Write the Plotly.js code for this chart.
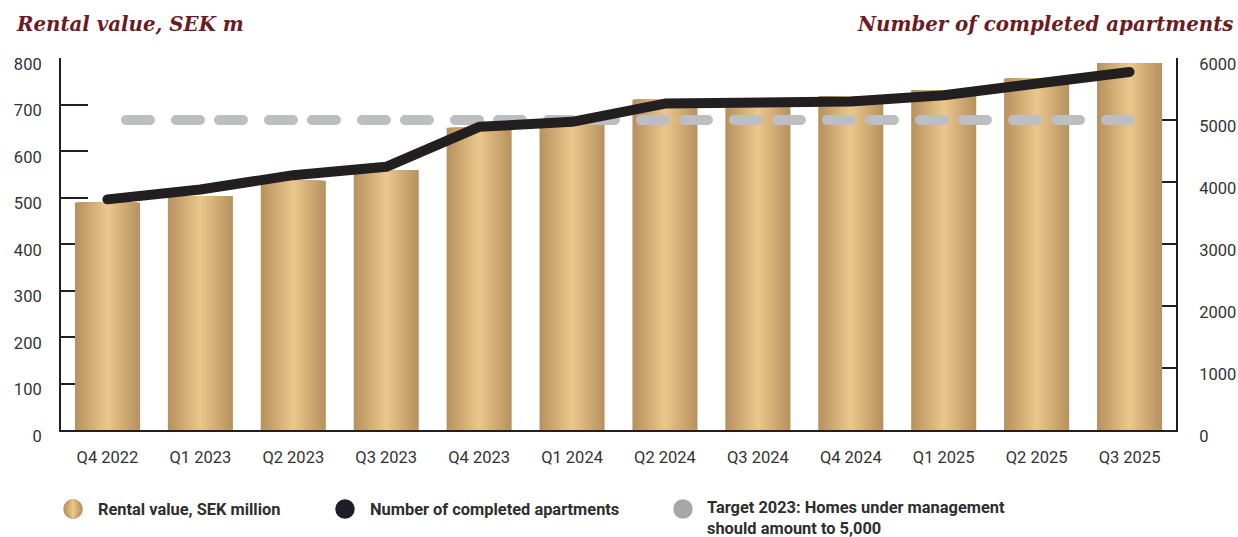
<!DOCTYPE html>
<html>
<head>
<meta charset="utf-8">
<script src="https://cdn.plot.ly/plotly-3.0.1.min.js"></script>
<style>
  html, body { margin: 0; padding: 0; background: #ffffff; }
  #chart { width: 1238px; height: 537px; }
</style>
</head>
<body>
<div id="chart"></div>
<script>
// ---- Data ----
const quarters = ["Q4 2022", "Q1 2023", "Q2 2023", "Q3 2023", "Q4 2023", "Q1 2024",
                  "Q2 2024", "Q3 2024", "Q4 2024", "Q1 2025", "Q2 2025", "Q3 2025"];
const rentalValue = [489, 503, 536, 559, 650, 662, 711, 700, 718, 731, 756, 789];
const completedApartments = [3720, 3880, 4110, 4245, 4890, 4970, 5265, 5265, 5300, 5400, 5570, 5775];
const targetHomes = 5000;
const leftTicks = [0, 100, 200, 300, 400, 500, 600, 700, 800];
const rightTicks = [0, 1000, 2000, 3000, 4000, 5000, 6000];

const legendLabels = ["Rental value, SEK million", "Number of completed apartments",
                      "Target 2023: Homes under management<br>should amount to 5,000"];
const titleLeft = "Rental value, SEK m";
const titleRight = "Number of completed apartments";

// ---- Styling helpers ----
const W = 1238, H = 537;
const M = { l: 61, r: 62, t: 58, b: 107 };
const PW = W - M.l - M.r, PH = H - M.t - M.b;
const px = x => (x - M.l) / PW;
const py = y => (H - M.b - y) / PH;

const edge = [184, 146, 95], mid = [233, 198, 140];
function lerpColor(t) {
  const c = edge.map((e, i) => Math.round(e + (mid[i] - e) * t));
  return `rgb(${c[0]},${c[1]},${c[2]})`;
}

const traces = [];
const LAYERS = 18;
for (let k = 0; k < LAYERS; k++) {
  traces.push({
    type: "bar",
    x: quarters,
    y: rentalValue,
    width: 0.7 * (1 - k / LAYERS),
    marker: { color: lerpColor(k / (LAYERS - 1)), line: { width: 0 } },
    name: legendLabels[0],
    hoverinfo: "skip",
    showlegend: false
  });
}
traces.push({
  type: "scatter",
  mode: "lines",
  x: [quarters[0], quarters[quarters.length - 1]],
  y: [targetHomes, targetHomes],
  yaxis: "y2",
  line: { color: "#bdbec1", width: 10, dash: "24px,26px,24px,19px" },
  name: legendLabels[2],
  showlegend: false
});
traces.push({
  type: "scatter",
  mode: "lines",
  x: quarters,
  y: completedApartments,
  yaxis: "y2",
  line: { color: "#231f20", width: 10 },
  name: legendLabels[1],
  showlegend: false
});

const tickFont = { family: "Roboto, sans-serif", size: 16.5, color: "#333333" };
const legFont = { family: "Roboto, sans-serif", size: 16.4, color: "#2e2e2e" };
const titleFont = { family: "DejaVu Serif, serif", size: 19.8, color: "#6b1c22" };

const shapes = [];
function circle(cx, cy, d, color, wScale) {
  shapes.push({
    type: "circle", xref: "paper", yref: "paper",
    xsizemode: "pixel", ysizemode: "pixel",
    xanchor: px(cx), yanchor: py(cy),
    x0: -d * wScale / 2, x1: d * wScale / 2, y0: -d / 2, y1: d / 2,
    fillcolor: color, line: { width: 0 }
  });
}
// legend marker 1 (gradient)
for (let k = 0; k < 8; k++) circle(73, 509, 19.5, lerpColor(k / 7), 1 - k / 8);
circle(345, 509, 19.5, "#1f1d25", 1);
circle(683, 509, 19.5, "#a7a7aa", 1);

const annotations = [
  { text: "<b><i>" + titleLeft + "</i></b>", x: px(14), y: py(24), xref: "paper", yref: "paper",
    xanchor: "left", yanchor: "middle", showarrow: false, font: titleFont },
  { text: "<b><i>" + titleRight + "</i></b>", x: px(1235), y: py(24), xref: "paper", yref: "paper",
    xanchor: "right", yanchor: "middle", showarrow: false, font: titleFont },
  { text: "<b>" + legendLabels[0] + "</b>", x: px(96), y: py(509), xref: "paper", yref: "paper",
    xanchor: "left", yanchor: "middle", showarrow: false, font: legFont },
  { text: "<b>" + legendLabels[1] + "</b>", x: px(368), y: py(509), xref: "paper", yref: "paper",
    xanchor: "left", yanchor: "middle", showarrow: false, font: legFont },
  { text: "<b>" + legendLabels[2].replace("<br>", "</b><br><b>") + "</b>", x: px(706), y: py(517.5), xref: "paper", yref: "paper",
    xanchor: "left", yanchor: "middle", align: "left", showarrow: false, font: legFont, borderpad: 0 }
];

const axisCommon = {
  showgrid: false, zeroline: false, showline: true,
  linecolor: "#231f20", linewidth: 2,
  ticks: "inside", ticklen: 27, tickwidth: 2, tickcolor: "#231f20",
  tickfont: tickFont, layer: "below traces", fixedrange: true,
  ticklabelshift: 6
};

const layout = {
  width: W, height: H,
  margin: M,
  paper_bgcolor: "#ffffff", plot_bgcolor: "#ffffff",
  barmode: "overlay",
  showlegend: false,
  xaxis: {
    type: "category", showgrid: false, zeroline: false, showline: true,
    linecolor: "#231f20", linewidth: 2, ticks: "", tickfont: tickFont,
    ticklabelstandoff: 11, fixedrange: true
  },
  yaxis: Object.assign({}, axisCommon, { range: [0, 800], tickvals: leftTicks, ticklabelstandoff: 14 }),
  yaxis2: Object.assign({}, axisCommon, {
    range: [0, 6000], tickvals: rightTicks, overlaying: "y", side: "right", ticklabelstandoff: 18
  }),
  shapes: shapes,
  annotations: annotations
};

Plotly.newPlot("chart", traces, layout, { staticPlot: true, displayModeBar: false }).then(gd => {
  const lines = gd.querySelectorAll(".scatterlayer .js-line");
  lines.forEach((p, i) => {
    p.style.strokeLinecap = "round";
    p.style.strokeLinejoin = "round";
    if (i === 0) p.style.strokeDashoffset = "74.5";
  });
});
</script>
</body>
</html>
